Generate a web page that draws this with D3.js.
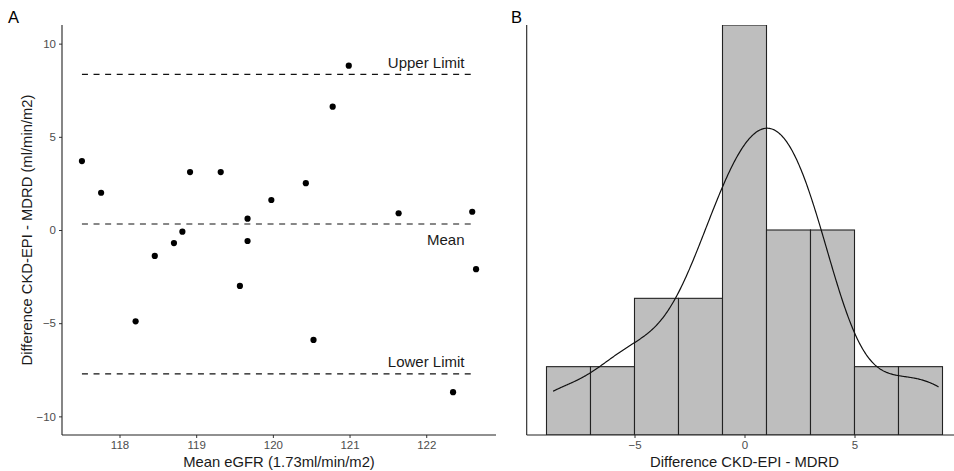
<!DOCTYPE html>
<html>
<head>
<meta charset="utf-8">
<script src="https://cdn.jsdelivr.net/npm/d3@7"></script>
<style>
  body { margin: 0; background: #fff; }
  svg { font-family: "Liberation Sans", Arial, sans-serif; }
</style>
</head>
<body>
<div id="chart"></div>
<script>
// datos
const meanX = [117.51, 117.76, 118.21, 118.46, 118.71, 118.82, 118.92, 119.32, 119.57, 119.67,
               119.67, 119.98, 120.43, 120.53, 120.78, 120.99, 121.64, 122.35, 122.60, 122.65]
const diff  = [3.70, 2.00, -4.90, -1.39, -0.70, -0.09, 3.11, 3.11, -3.00, 0.61,
               -0.59, 1.61, 2.51, -5.90, 6.62, 8.82, 0.90, -8.70, 0.98, -2.10]
const limitNames = ["Upper Limit", "Mean", "Lower Limit"]
const limitValues = [8.35, 0.32, -7.72]
const xTicksA = [118, 119, 120, 121, 122]
const yTicksA = [-10, -5, 0, 5, 10]
const binEdges = [-9, -7, -5, -3, -1, 1, 3, 5, 7, 9]
const xTicksB = [-5, 0, 5]

const width = 954
const height = 471

const svg = d3.select("div#chart").append("svg").attr("width", width).attr("height", height)

const axisColor = "#222"
const tickText = "#4d4d4d"

// ---------- panel A ----------
const xA = d3.scaleLinear().domain([117.25, 122.91]).range([62, 496])
const yA = d3.scaleLinear().domain([-11, 11]).range([435, 25])

const gA = svg.append("g")

const xAxisA = gA.append("g").attr("transform", `translate(0, 435)`)
    .call(d3.axisBottom(xA).tickValues(xTicksA).tickFormat(d3.format("d")).tickSize(3).tickPadding(3))
const yAxisA = gA.append("g").attr("transform", `translate(62, 0)`)
    .call(d3.axisLeft(yA).tickValues(yTicksA).tickFormat(d3.format("d")).tickSize(3).tickPadding(3))

;[xAxisA, yAxisA].forEach(ax => {
    ax.select(".domain").remove()
    ax.selectAll("line").attr("stroke", "#333")
    ax.selectAll("text").attr("fill", tickText).style("font-size", "11.5px").attr("font-family", null)
})
gA.append("line").attr("x1", 62).attr("x2", 496).attr("y1", 435).attr("y2", 435).attr("stroke", axisColor).attr("stroke-width", 1.1)
gA.append("line").attr("x1", 62).attr("x2", 62).attr("y1", 25).attr("y2", 435).attr("stroke", axisColor).attr("stroke-width", 1.1)

// lineas de limites
const x0 = d3.min(meanX), x1 = d3.max(meanX)
gA.selectAll("line.limit").data(limitValues).enter().append("line")
    .attr("class", "limit")
    .attr("x1", xA(x0)).attr("x2", xA(x1))
    .attr("y1", d => yA(d)).attr("y2", d => yA(d))
    .attr("stroke", "#111").attr("stroke-width", 1.1)
    .attr("stroke-dasharray", "6,5.6")

const labelOffset = [0.65, -0.85, 0.64]
gA.selectAll("text.limitLabel").data(limitNames).enter().append("text")
    .attr("class", "limitLabel")
    .attr("x", xA(122.5))
    .attr("y", (d, i) => yA(limitValues[i] + labelOffset[i]))
    .attr("dy", "0.35em")
    .attr("text-anchor", "end")
    .style("font-size", "15px")
    .attr("fill", "#1a1a1a")
    .text(d => d)

gA.selectAll("circle").data(meanX).enter().append("circle")
    .attr("cx", d => xA(d))
    .attr("cy", (d, i) => yA(diff[i]))
    .attr("r", 3.1)
    .attr("fill", "#000")

gA.append("text").attr("x", 62 + (496 - 62) / 2).attr("y", 467)
    .attr("text-anchor", "middle").style("font-size", "14.8px").attr("fill", "#1a1a1a")
    .text("Mean eGFR (1.73ml/min/m2)")
gA.append("text").attr("transform", `translate(32, 230) rotate(-90)`)
    .attr("text-anchor", "middle").style("font-size", "14.8px").attr("fill", "#1a1a1a")
    .text("Difference CKD-EPI - MDRD (ml/min/m2)")

svg.append("text").attr("x", 8).attr("y", 23).style("font-size", "16.5px").text("A")

// ---------- panel B ----------
// conteo por intervalos (cerrado a la derecha, como ggplot)
const bins = binEdges.slice(0, -1).map((e, i) => {
    const lo = e, hi = binEdges[i + 1]
    const n = diff.filter(v => (v > lo || (i === 0 && v === lo)) && v <= hi).length
    return { x0: lo, x1: hi, n: n }
})

const xB = d3.scaleLinear().domain([-9.9, 9.9]).range([526.7, 962.3])
const yB = d3.scaleLinear().domain([0, d3.max(bins, d => d.n)]).range([435, 25])

svg.append("clipPath").attr("id", "clipB").append("rect")
    .attr("x", 526.7).attr("y", 25).attr("width", 440).attr("height", 410)

const gB = svg.append("g")
const plotB = gB.append("g").attr("clip-path", "url(#clipB)")

plotB.selectAll("rect").data(bins).enter().append("rect")
    .attr("x", d => xB(d.x0))
    .attr("y", d => yB(d.n))
    .attr("width", d => xB(d.x1) - xB(d.x0))
    .attr("height", d => yB(0) - yB(d.n))
    .attr("fill", "#bebebe")
    .attr("stroke", "#222")
    .attr("stroke-width", 1.1)

// densidad (kernel gaussiano, bw.nrd0 como en R)
const n = diff.length
const sorted = diff.slice().sort(d3.ascending)
const iqr = d3.quantile(sorted, 0.75) - d3.quantile(sorted, 0.25)
const bw = 0.9 * Math.min(d3.deviation(diff), iqr / 1.34) * Math.pow(n, -0.2)
const binW = binEdges[1] - binEdges[0]
const dmin = d3.min(diff), dmax = d3.max(diff)
const kde = d3.range(512).map(k => {
    const x = dmin + (dmax - dmin) * k / 511
    const dens = d3.mean(diff, v => Math.exp(-0.5 * ((x - v) / bw) ** 2) / (bw * Math.sqrt(2 * Math.PI)))
    return [x, dens * n * binW]
})
plotB.append("path").datum(kde)
    .attr("d", d3.line().x(d => xB(d[0])).y(d => yB(d[1])))
    .attr("fill", "none").attr("stroke", "#111").attr("stroke-width", 1.2)

const xAxisB = gB.append("g").attr("transform", `translate(0, 435)`)
    .call(d3.axisBottom(xB).tickValues(xTicksB).tickFormat(d3.format("d")).tickSize(3).tickPadding(3))
xAxisB.select(".domain").remove()
xAxisB.selectAll("line").attr("stroke", "#333")
xAxisB.selectAll("text").attr("fill", tickText).style("font-size", "11.5px").attr("font-family", null)
gB.append("line").attr("x1", 526.7).attr("x2", 962.3).attr("y1", 435).attr("y2", 435).attr("stroke", axisColor).attr("stroke-width", 1.1)
gB.append("line").attr("x1", 526.7).attr("x2", 526.7).attr("y1", 25).attr("y2", 435).attr("stroke", axisColor).attr("stroke-width", 1.1)

gB.append("text").attr("x", 744.5).attr("y", 467)
    .attr("text-anchor", "middle").style("font-size", "14.8px").attr("fill", "#1a1a1a")
    .text("Difference CKD-EPI - MDRD")

svg.append("text").attr("x", 511).attr("y", 23).style("font-size", "16.5px").text("B")
</script>
</body>
</html>
